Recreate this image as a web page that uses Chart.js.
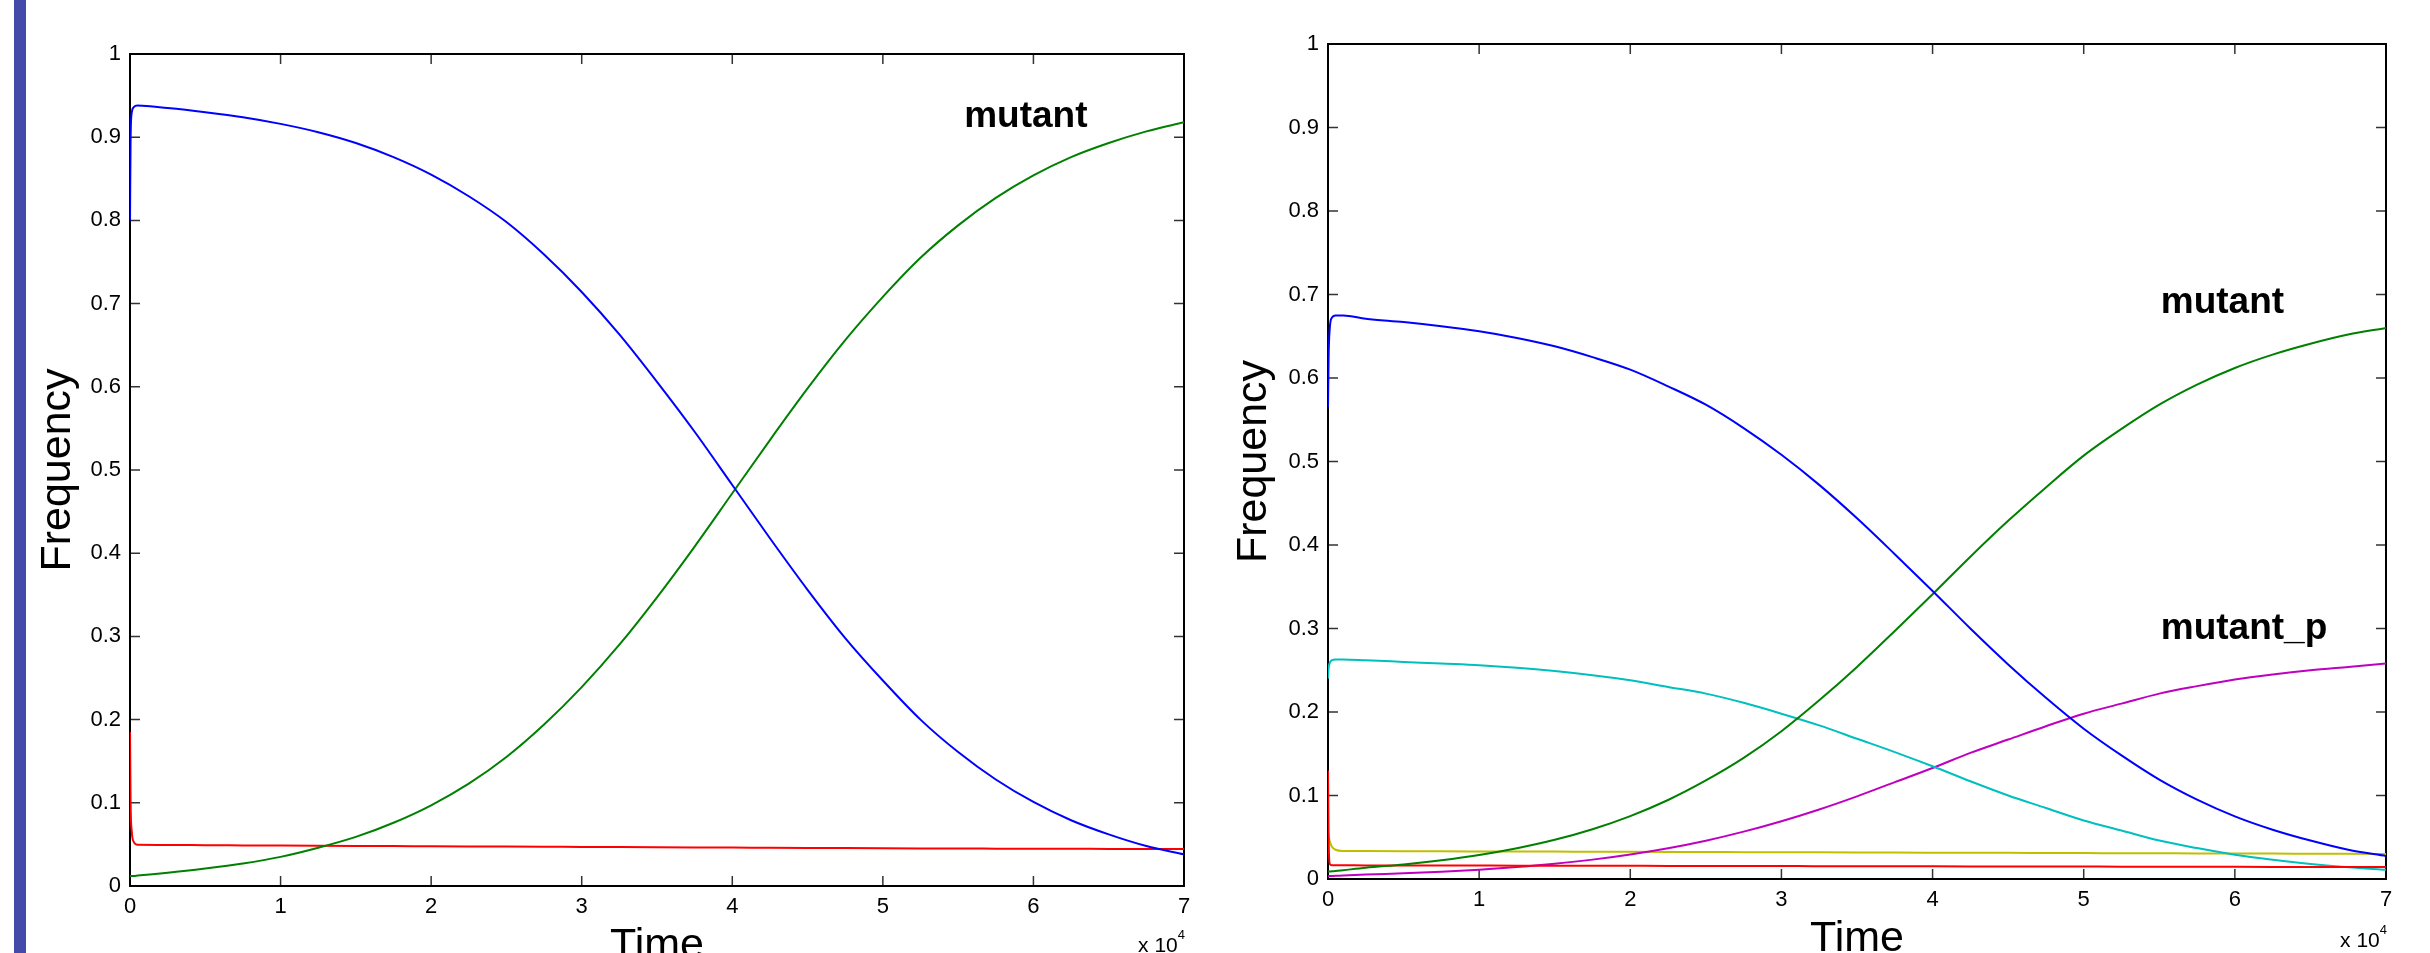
<!DOCTYPE html>
<html>
<head>
<meta charset="utf-8">
<script src="https://cdn.jsdelivr.net/npm/chart.js@4.4.1/dist/chart.umd.min.js"></script>
<style>
  html, body { margin: 0; padding: 0; background: #fff; }
  body { width: 2430px; height: 953px; position: relative; overflow: hidden; }
  #bar { position: absolute; left: 14px; top: 0; width: 12px; height: 953px; background: #434aa8; }
  canvas { position: absolute; top: 0; }
  #left { left: 0; }
  #right { left: 1215px; }
</style>
</head>
<body>
<div id="bar"></div>
<canvas id="left" width="1215" height="953"></canvas>
<canvas id="right" width="1215" height="953"></canvas>
<script>
const FONT = '"Liberation Sans", Arial, Helvetica, sans-serif';

// tick labels (time in units of 10^4)
const xTickValues = [0, 1, 2, 3, 4, 5, 6, 7];
const xTickLabels = ['0', '1', '2', '3', '4', '5', '6', '7'];
const yTickValues = [0, 0.1, 0.2, 0.3, 0.4, 0.5, 0.6, 0.7, 0.8, 0.9, 1];
const yTickLabels = ['0', '0.1', '0.2', '0.3', '0.4', '0.5', '0.6', '0.7', '0.8', '0.9', '1'];

// left panel
const timeA  = [0, 0.004, 0.012, 0.025, 0.05, 0.25, 0.5, 0.75, 1, 1.25, 1.5, 1.75, 2, 2.25, 2.5, 2.75, 3, 3.25, 3.5, 3.75, 4, 4.25, 4.5, 4.75, 5, 5.25, 5.5, 5.75, 6, 6.25, 6.5, 6.75, 7];
const blueA  = [0.80, 0.90, 0.93, 0.936, 0.938, 0.935, 0.930, 0.924, 0.916, 0.906, 0.893, 0.876, 0.855, 0.829, 0.798, 0.759, 0.714, 0.663, 0.606, 0.546, 0.482, 0.418, 0.356, 0.298, 0.247, 0.200, 0.161, 0.128, 0.101, 0.079, 0.062, 0.048, 0.038];
const greenA = [0.012, 0.012, 0.012, 0.012, 0.0125, 0.016, 0.021, 0.027, 0.035, 0.046, 0.059, 0.076, 0.097, 0.123, 0.155, 0.194, 0.239, 0.290, 0.347, 0.408, 0.472, 0.536, 0.598, 0.656, 0.708, 0.755, 0.794, 0.827, 0.854, 0.876, 0.893, 0.907, 0.918];
const redA   = [0.185, 0.10, 0.065, 0.053, 0.0495, 0.0493, 0.0490, 0.0488, 0.0486, 0.0484, 0.0482, 0.0480, 0.0478, 0.0476, 0.0474, 0.0472, 0.0470, 0.0468, 0.0466, 0.0464, 0.0462, 0.0460, 0.0458, 0.0456, 0.0454, 0.0452, 0.0450, 0.0449, 0.0448, 0.0447, 0.0446, 0.0445, 0.0445];

// right panel
const timeB    = [0, 0.004, 0.012, 0.025, 0.05, 0.1, 0.25, 0.5, 0.75, 1, 1.25, 1.5, 1.75, 2, 2.25, 2.5, 2.75, 3, 3.25, 3.5, 3.75, 4, 4.25, 4.5, 4.75, 5, 5.25, 5.5, 5.75, 6, 6.25, 6.5, 6.75, 7];
const blueB    = [0.565, 0.625, 0.66, 0.672, 0.675, 0.675, 0.671, 0.667, 0.662, 0.656, 0.648, 0.638, 0.625, 0.610, 0.590, 0.568, 0.540, 0.508, 0.472, 0.432, 0.389, 0.345, 0.300, 0.257, 0.217, 0.180, 0.148, 0.119, 0.095, 0.075, 0.059, 0.046, 0.035, 0.0275];
const greenB   = [0.009, 0.009, 0.009, 0.0092, 0.0095, 0.0105, 0.0135, 0.0174, 0.0224, 0.0287, 0.0368, 0.0469, 0.0596, 0.0753, 0.0946, 0.118, 0.145, 0.177, 0.214, 0.254, 0.297, 0.341, 0.386, 0.429, 0.469, 0.507, 0.539, 0.568, 0.592, 0.612, 0.628, 0.641, 0.652, 0.660];
const redB     = [0.13, 0.05, 0.018, 0.0166, 0.0164, 0.0164, 0.0163, 0.0163, 0.0162, 0.0161, 0.0160, 0.0160, 0.0159, 0.0158, 0.0157, 0.0157, 0.0156, 0.0155, 0.0154, 0.0154, 0.0153, 0.0152, 0.0151, 0.0151, 0.0150, 0.0149, 0.0148, 0.0148, 0.0147, 0.0146, 0.0145, 0.0145, 0.0144, 0.0144];
const cyanB    = [0.24, 0.252, 0.259, 0.262, 0.263, 0.263, 0.262, 0.260, 0.258, 0.256, 0.253, 0.249, 0.244, 0.238, 0.230, 0.222, 0.211, 0.198, 0.184, 0.168, 0.152, 0.135, 0.117, 0.100, 0.085, 0.070, 0.058, 0.046, 0.037, 0.029, 0.023, 0.018, 0.014, 0.011];
const magentaB = [0.0035, 0.0035, 0.0035, 0.0036, 0.0038, 0.0041, 0.0053, 0.0068, 0.0087, 0.0112, 0.0144, 0.0183, 0.0232, 0.0294, 0.0369, 0.0459, 0.0567, 0.0692, 0.0833, 0.099, 0.116, 0.133, 0.151, 0.167, 0.183, 0.198, 0.210, 0.222, 0.231, 0.239, 0.245, 0.250, 0.254, 0.258];
const yellowB  = [0.057, 0.052, 0.045, 0.039, 0.035, 0.0336, 0.0334, 0.0333, 0.0331, 0.0330, 0.0329, 0.0328, 0.0326, 0.0325, 0.0324, 0.0323, 0.0321, 0.0320, 0.0319, 0.0318, 0.0316, 0.0315, 0.0314, 0.0313, 0.0311, 0.0310, 0.0309, 0.0308, 0.0306, 0.0305, 0.0304, 0.0303, 0.0301, 0.0300];

const COLORS = {
  blue: '#0000ff', green: '#008000', red: '#ff0000',
  cyan: '#00bfbf', magenta: '#bf00bf', yellow: '#bfbf00'
};

function series(time, values, color) {
  return {
    data: time.map((t, i) => ({ x: t, y: values[i] })),
    borderColor: COLORS[color],
    borderWidth: 2,
    pointRadius: 0,
    cubicInterpolationMode: 'monotone',
    fill: false
  };
}

// box with inward ticks on all four sides
const frame = {
  id: 'frame',
  beforeDatasetsDraw(chart) {
    const { ctx, chartArea: a, scales: { x, y } } = chart;
    ctx.save();
    ctx.strokeStyle = '#333';
    ctx.lineWidth = 1.5;
    ctx.beginPath();
    x.ticks.forEach(t => {
      const px = x.getPixelForValue(t.value);
      ctx.moveTo(px, a.bottom); ctx.lineTo(px, a.bottom - 10);
      ctx.moveTo(px, a.top); ctx.lineTo(px, a.top + 10);
    });
    y.ticks.forEach(t => {
      const py = y.getPixelForValue(t.value);
      ctx.moveTo(a.left, py); ctx.lineTo(a.left + 10, py);
      ctx.moveTo(a.right, py); ctx.lineTo(a.right - 10, py);
    });
    ctx.stroke();
    ctx.strokeStyle = '#000';
    ctx.lineWidth = 2;
    ctx.strokeRect(a.left, a.top, a.right - a.left, a.bottom - a.top);
    ctx.restore();
  }
};

// axis titles, exponent and curve labels
const panelText = {
  id: 'panelText',
  afterDraw(chart, args, opts) {
    const { ctx, chartArea: a, scales: { x, y } } = chart;
    ctx.save();
    ctx.fillStyle = '#000';
    ctx.textBaseline = 'alphabetic';

    ctx.save();
    ctx.font = `43px ${FONT}`;
    ctx.textAlign = 'center';
    ctx.translate(opts.yTitleX, (a.top + a.bottom) / 2);
    ctx.rotate(-Math.PI / 2);
    ctx.fillText('Frequency', 0, 0);
    ctx.restore();

    ctx.font = `43px ${FONT}`;
    ctx.textAlign = 'center';
    ctx.fillText('Time', (a.left + a.right) / 2, opts.xTitleY);

    ctx.textAlign = 'right';
    ctx.font = `13px ${FONT}`;
    ctx.fillText('4', a.right + 1, opts.expY - 13);
    const w4 = ctx.measureText('4').width;
    ctx.font = `21px ${FONT}`;
    ctx.fillText('x 10', a.right + 1 - w4, opts.expY);

    ctx.textAlign = 'left';
    ctx.font = `bold 37px ${FONT}`;
    opts.notes.forEach(n => {
      ctx.fillText(n.text, x.getPixelForValue(n.t), y.getPixelForValue(n.v));
    });
    ctx.restore();
  }
};

function makeChart(id, datasets, layout) {
  return new Chart(document.getElementById(id).getContext('2d'), {
    type: 'line',
    data: { datasets },
    options: {
      responsive: false,
      animation: false,
      layout: { padding: { left: 0, top: layout.top, right: layout.right, bottom: 0 } },
      plugins: {
        legend: { display: false },
        tooltip: { enabled: false },
        panelText: layout.text
      },
      scales: {
        x: {
          type: 'linear', min: 0, max: 7,
          afterBuildTicks: s => { s.ticks = xTickValues.map(v => ({ value: v })); },
          afterFit: s => { s.height = layout.xHeight; },
          grid: { display: false, drawTicks: false },
          border: { display: false },
          ticks: {
            padding: 8, color: '#000', maxRotation: 0,
            font: { family: FONT, size: 22 },
            callback: (v, i) => xTickLabels[i]
          }
        },
        y: {
          type: 'linear', min: 0, max: 1,
          afterBuildTicks: s => { s.ticks = yTickValues.map(v => ({ value: v })); },
          afterFit: s => { s.width = layout.yWidth; },
          grid: { display: false, drawTicks: false },
          border: { display: false },
          ticks: {
            padding: 9, color: '#000',
            font: { family: FONT, size: 22 },
            callback: (v, i) => yTickLabels[i]
          }
        }
      }
    },
    plugins: [frame, panelText]
  });
}

makeChart('left', [
  series(timeA, blueA, 'blue'),
  series(timeA, greenA, 'green'),
  series(timeA, redA, 'red')
], {
  top: 54, right: 31, yWidth: 130, xHeight: 67,
  text: {
    yTitleX: 70, xTitleY: 958, expY: 952,
    notes: [{ text: 'mutant', t: 5.54, v: 0.912 }]
  }
});

makeChart('right', [
  series(timeB, blueB, 'blue'),
  series(timeB, greenB, 'green'),
  series(timeB, redB, 'red'),
  series(timeB, cyanB, 'cyan'),
  series(timeB, magentaB, 'magenta'),
  series(timeB, yellowB, 'yellow')
], {
  top: 44, right: 44, yWidth: 113, xHeight: 74,
  text: {
    yTitleX: 51, xTitleY: 951, expY: 947,
    notes: [
      { text: 'mutant', t: 5.51, v: 0.678 },
      { text: 'mutant_p', t: 5.51, v: 0.288 }
    ]
  }
});
</script>
</body>
</html>
